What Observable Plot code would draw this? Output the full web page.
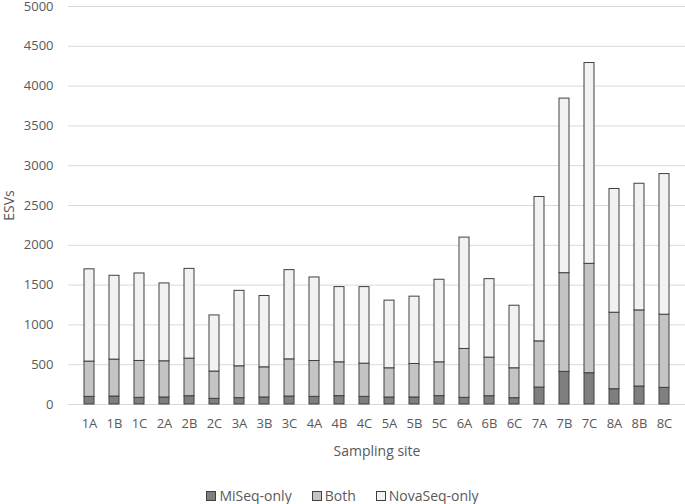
<!DOCTYPE html>
<html><head><meta charset="utf-8">
<script src="https://cdn.jsdelivr.net/npm/d3@7"></script>
<script src="https://cdn.jsdelivr.net/npm/@observablehq/plot@0.6"></script>
<style>
body{margin:0;background:#fff;font-family:"Open Sans",sans-serif;}
#legend{display:flex;justify-content:center;align-items:center;height:16px;line-height:16px;font-size:14px;color:#595959;padding-left:0;}
#legend .item{display:flex;align-items:center;margin:0 10px;}
#legend .sw{width:8px;height:8px;border:1px solid #404040;margin-right:3px;}
</style></head><body><div id="chart"></div><div id="legend"></div>
<script>
const sites = ["1A","1B","1C","2A","2B","2C","3A","3B","3C","4A","4B","4C","5A","5B","5C","6A","6B","6C","7A","7B","7C","8A","8B","8C"];
const miseqOnly   = [96,100,84,88,104,71,80,88,100,96,105,96,88,88,105,84,104,79,213,410,393,192,226,209];
const both        = [443,464,463,455,472,343,400,379,467,450,425,417,367,421,425,614,485,376,580,1240,1374,961,956,919];
const novaseqOnly = [1159,1053,1099,978,1128,705,948,896,1121,1050,945,962,850,846,1037,1399,986,786,1814,2193,2523,1554,1591,1767];
const seriesNames = ["MiSeq-only","Both","NovaSeq-only"];
const seriesColors = ["#7f7f7f","#c4c4c4","#f2f2f2"];
const yTicks = d3.range(0, 5001, 500);

const seriesValues = [miseqOnly, both, novaseqOnly];
const rows = [];
seriesNames.forEach((s, k) => sites.forEach((site, i) => rows.push({site, series: s, value: seriesValues[k][i]})));

const chart = Plot.plot({
  width: 685,
  height: 488,
  marginTop: 6,
  marginBottom: 84,
  marginLeft: 68,
  marginRight: 0,
  style: {fontFamily: '"Open Sans", sans-serif', fontSize: "13px", color: "#595959", background: "#fff", overflow: "visible"},
  x: {domain: sites, paddingInner: 0.62, paddingOuter: 0.31},
  y: {domain: [0, 5000]},
  color: {domain: seriesNames, range: seriesColors},
  marks: [
    Plot.gridY(yTicks, {stroke: "#d9d9d9", strokeOpacity: 1, strokeWidth: 1}),
    Plot.axisY(yTicks, {tickSize: 0, tickPadding: 15, tickFormat: d => String(d), label: "ESVs", labelAnchor: "center", labelArrow: "none", labelOffset: 64, fontSize: 13}),
    Plot.axisX({tickSize: 0, tickPadding: 14, label: "Sampling site", labelAnchor: "center", labelArrow: "none", labelOffset: 51, fontSize: 13}),
    Plot.barY(rows, {x: "site", y: "value", fill: "series", stroke: "#404040", strokeWidth: 1})
  ]
});
chart.querySelectorAll("g[aria-label='y-axis label'] text, g[aria-label='x-axis label'] text").forEach(t => t.setAttribute("font-size", "14"));
document.getElementById("chart").appendChild(chart);

const legend = document.getElementById("legend");
seriesNames.forEach((s, k) => {
  const it = document.createElement("div"); it.className = "item";
  const sw = document.createElement("div"); sw.className = "sw"; sw.style.background = seriesColors[k];
  const tx = document.createElement("span"); tx.textContent = s;
  it.appendChild(sw); it.appendChild(tx); legend.appendChild(it);
});
</script></body></html>
